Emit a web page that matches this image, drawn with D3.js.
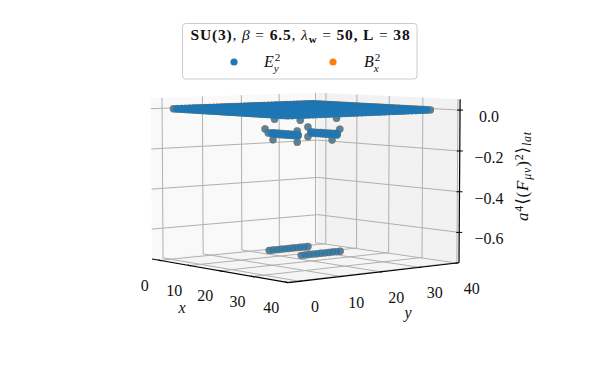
<!DOCTYPE html>
<html><head><meta charset="utf-8">
<script src="https://cdn.jsdelivr.net/npm/d3@7"></script>
<style>
html,body{margin:0;padding:0;background:#fff}
svg{display:block}
text{font-family:"Liberation Serif","DejaVu Serif",serif;fill:#111}
</style></head><body><svg id="c" width="600" height="370"></svg>
<script>
// ---- data ----
const tickX = [0,10,20,30,40];
const tickY = [0,10,20,30,40];
const tickZ = [0,-0.2,-0.4,-0.6];
const limX = [-2.7,40.6];
const limY = [-2.7,40.6];
const limZ = [-0.75,0.053];
const seriesNames = ["E_y^2","B_x^2"];
const seriesColors = ["#1f77b4","#ff7f0e"];
// sheet of lattice sites sitting at about zero
const sheetSites = d3.range(0.5,37);
const sheetE = 0.0, sheetB = 0.0005;
// strong lines next to the sources, along y
const lineXs = [14,24];
const lineYs = [14,15,16,17,18,19,20,21,22,23,24];
const lineE = -0.70;
// weaker lines along x
const barYs = [14,24];
const barXs = [15,16,17,18,19,20,21,22,23];
const barE = [[-0.115,-0.118,-0.121],[-0.12,-0.123,-0.126]];
// isolated sites around the ends of those lines
const dotX = [14,15,14,24,24,14,14,25,24,25,17,14,24];
const dotY = [13,13,15,13,13,24,24,23,23,21,13,22,23];
const dotE = [-0.096,-0.115,-0.152,-0.095,-0.149,-0.097,-0.146,-0.094,-0.115,-0.146,-0.045,-0.061,-0.042];

// ---- camera ----
const W=[1,1,0.726], az=-39.6*Math.PI/180, el=4.8*Math.PI/180, D=8.3;
const xS=d3.scaleLinear().domain(limX).range([-W[0]/2,W[0]/2]);
const yS=d3.scaleLinear().domain(limY).range([-W[1]/2,W[1]/2]);
const zS=d3.scaleLinear().domain(limZ).range([-W[2]/2,W[2]/2]);
const dir=[Math.cos(el)*Math.cos(az),Math.cos(el)*Math.sin(az),Math.sin(el)];
const rgt=[-Math.sin(az),Math.cos(az),0];
const up=[-Math.sin(el)*Math.cos(az),-Math.sin(el)*Math.sin(az),Math.cos(el)];
const dot3=(a,b)=>a[0]*b[0]+a[1]*b[1]+a[2]*b[2];
function cam(x,y,z){const p=[xS(x),yS(y),zS(z)];const d=D-dot3(p,dir);return [dot3(p,rgt)/d,dot3(p,up)/d,d];}
const cL=cam(limX[0],limY[0],limZ[0]),cR=cam(limX[1],limY[1],limZ[0]),cT=cam(limX[0],limY[0],limZ[1]);
const sx=d3.scaleLinear().domain([cL[0],cR[0]]).range([152,459]);
const sy=d3.scaleLinear().domain([cL[1],cT[1]]).range([259,98]);
const P=(x,y,z)=>{const c=cam(x,y,z);return [sx(c[0]),sy(c[1]),c[2]];};

const svg=d3.select("#c");
const line=d3.line();
function poly(pts,fill){svg.append("path").attr("d",line(pts.map(p=>P(...p).slice(0,2)))+"Z").attr("fill",fill).attr("stroke","none");}
const [x0,x1]=limX,[y0,y1]=limY,[z0,z1]=limZ;
poly([[x0,y0,z0],[x0,y1,z0],[x0,y1,z1],[x0,y0,z1]],"#f9f9f9");
poly([[x0,y1,z0],[x1,y1,z0],[x1,y1,z1],[x0,y1,z1]],"#f2f2f2");
poly([[x0,y0,z0],[x1,y0,z0],[x1,y1,z0],[x0,y1,z0]],"#f5f5f5");
function seg(a,b,col,w){const A=P(...a),B=P(...b);svg.append("line").attr("x1",A[0]).attr("y1",A[1]).attr("x2",B[0]).attr("y2",B[1]).attr("stroke",col).attr("stroke-width",w);}
const gc="#b0b0b0",gw=1;
tickX.forEach(t=>{seg([t,y0,z0],[t,y1,z0],gc,gw);seg([t,y1,z0],[t,y1,z1],gc,gw);});
tickY.forEach(t=>{seg([x0,t,z0],[x1,t,z0],gc,gw);seg([x0,t,z0],[x0,t,z1],gc,gw);});
tickZ.forEach(t=>{seg([x0,y0,t],[x0,y1,t],gc,gw);seg([x0,y1,t],[x1,y1,t],gc,gw);});
// axes
seg([x0,y0,z0],[x1,y0,z0],"#000",1.2);
seg([x1,y0,z0],[x1,y1,z0],"#000",1.2);
seg([x1,y1,z0],[x1,y1,z1],"#000",1.2);
tickX.forEach(t=>{const p=P(t,y0,z0);svg.append("line").attr("x1",p[0]-1.5).attr("y1",p[1]-.6).attr("x2",p[0]+1.5).attr("y2",p[1]+.6).attr("stroke","#000");
  svg.append("text").attr("x",p[0]-15).attr("y",p[1]+30.5).attr("text-anchor","middle").attr("font-size",16).text(t);});
tickY.forEach(t=>{const p=P(x1,t,z0);svg.append("line").attr("x1",p[0]-1.5).attr("y1",p[1]+.3).attr("x2",p[0]+1.5).attr("y2",p[1]-.3).attr("stroke","#000");
  svg.append("text").attr("x",p[0]+15).attr("y",p[1]+31).attr("text-anchor","middle").attr("font-size",16).text(t);});
const fmtZ=d3.format(".1f");
tickZ.forEach(t=>{const p=P(x1,y1,t);svg.append("line").attr("x1",p[0]-3).attr("y1",p[1]).attr("x2",p[0]+3).attr("y2",p[1]).attr("stroke","#000");
  svg.append("text").attr("x",489).attr("y",p[1]+12).attr("text-anchor","middle").attr("font-size",16).text(fmtZ(t).replace("-","\u2212"));});

// points
function build(sheetZ){
  const pts=[];
  sheetSites.forEach(a=>sheetSites.forEach(b=>pts.push([a,b,sheetZ])));
  lineXs.forEach(a=>lineYs.forEach(b=>pts.push([a,b,lineE])));
  barYs.forEach((b,i)=>barXs.forEach(a=>barE[i].forEach(z=>pts.push([a,b,z]))));
  dotX.forEach((a,i)=>pts.push([a,dotY[i],dotE[i]]));
  return pts.map(p=>P(...p)).sort((a,b)=>b[2]-a[2]);
}
[[1,sheetB],[0,sheetE]].forEach(([k,s])=>{
  svg.append("g").selectAll("circle").data(build(s)).join("circle")
    .attr("cx",d=>d[0]).attr("cy",d=>d[1]).attr("r",3.7)
    .attr("fill",seriesColors[k]).attr("fill-opacity",k?0.8:0.72);
});

// legend
svg.append("rect").attr("x",182.5).attr("y",23.5).attr("width",234.5).attr("height",55.5).attr("rx",3)
  .attr("fill","#fff").attr("fill-opacity",.8).attr("stroke","#ccc");
const title=svg.append("text").attr("x",300.5).attr("y",40).attr("text-anchor","middle").attr("font-size",15.5).attr("letter-spacing",0.85);
function ts(sel,t,o={}){const s=sel.append("tspan").text(t);if(o.b)s.attr("font-weight","bold");if(o.i)s.attr("font-style","italic");if(o.dy!=null)s.attr("dy",o.dy);if(o.fs)s.attr("font-size",o.fs);return s;}
ts(title,"SU(3)",{b:1});ts(title,", ");ts(title,"\u03B2",{i:1});ts(title," = ");ts(title,"6.5",{b:1});ts(title,", ");ts(title,"\u03BB",{i:1});
ts(title,"w",{b:1,dy:3,fs:11});ts(title," = ",{dy:-3});ts(title,"50, L",{b:1});ts(title," = ");ts(title,"38",{b:1});
const lx=[234,333],tx=[264,364];
function mathSym(sel,x,y,base,sub,sup,fs){
  const t=sel.append("text").attr("x",x).attr("y",y).attr("font-size",fs);
  ts(t,base,{i:1});
  const w=t.node().getComputedTextLength();
  sel.append("text").attr("x",x+w+1).attr("y",y-6).attr("font-size",fs*.7).text(sup);
  sel.append("text").attr("x",x+w).attr("y",y+5).attr("font-size",fs*.7).attr("font-style","italic").text(sub);
}
seriesNames.forEach((n,i)=>{
  svg.append("circle").attr("cx",lx[i]).attr("cy",62).attr("r",3.6).attr("fill",seriesColors[i]);
  const [b,r]=n.split("_");const [s,p]=r.split("^");
  mathSym(svg,tx[i],67,b,s,p,16);
});
// axis labels
svg.append("text").attr("x",182).attr("y",313).attr("text-anchor","middle").attr("font-size",16).attr("font-style","italic").text("x");
svg.append("text").attr("x",408).attr("y",318).attr("text-anchor","middle").attr("font-size",16).attr("font-style","italic").text("y");
const zl=svg.append("text").attr("transform","translate(528,176) rotate(-90)").attr("text-anchor","middle").attr("font-size",17).attr("letter-spacing",0.8);
ts(zl,"a",{i:1});ts(zl,"4",{dy:-5,fs:12});ts(zl,"\u27E8(",{dy:5});ts(zl,"F",{i:1});ts(zl,"\u03BC\u03BD",{i:1,dy:3,fs:12});ts(zl,")",{dy:-3});ts(zl,"2",{dy:-5,fs:12});ts(zl,"\u27E9",{dy:5});ts(zl,"lat",{i:1,dy:3,fs:12});
</script></body></html>
